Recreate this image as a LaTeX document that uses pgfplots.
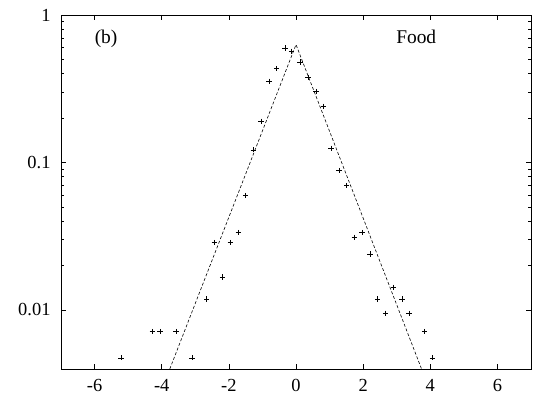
\documentclass[border=0pt]{standalone}
\usepackage{fontspec}
\setmainfont{Liberation Serif}
\usepackage{pgfplots}
\pgfplotsset{compat=1.18}
\begin{document}
\begin{tikzpicture}[x=1bp,y=1bp]
\useasboundingbox (0,0) rectangle (533,405);
\begin{axis}[at={(61bp,36bp)}, anchor=south west, scale only axis,
  width=470bp, height=354bp,
  xmin=-7, xmax=7, ymode=log, ymin=0.00398, ymax=1,
  xtick={-6,-4,...,6}, ytick={0.01,0.1,1}, yticklabels={0.01,0.1,1},
  tick align=inside, major tick length=5bp, minor tick length=3bp,
  tick style={black, line width=0.6pt},
  axis line style={line width=0.8pt},
  font=\fontsize{18.5}{22}\selectfont,
  /pgf/number format/assume math mode=true,
  x tick label style={yshift=-7bp},
  y tick label style={xshift=-7bp},
  clip=true]
\addplot[black, line width=0.6pt, dash pattern=on 3pt off 2pt] coordinates {
(-3.76,0.00398) (0,0.63) (3.74,0.00398)};
\addplot[only marks, mark=+, mark size=2.7pt, black, line width=0.5pt] coordinates {
(-5.21,0.00474) (-4.28,0.00713) (-4.05,0.00713) (-3.58,0.00713) (-3.10,0.00474)
(-2.66,0.01188) (-2.43,0.0286) (-2.19,0.0167) (-1.96,0.0286) (-1.72,0.0335)
(-1.50,0.0597) (-1.27,0.122) (-1.04,0.190) (-0.80,0.355) (-0.58,0.433)
(-0.33,0.598) (-0.13,0.567) (0.12,0.481) (0.36,0.378) (0.60,0.303)
(0.81,0.240) (1.04,0.125) (1.28,0.0882) (1.51,0.0698) (1.74,0.0311)
(1.97,0.0335) (2.20,0.024) (2.43,0.01188) (2.67,0.0095) (2.90,0.01426)
(3.16,0.01188) (3.37,0.0095) (3.83,0.00713) (4.07,0.00474)};
\node[anchor=base west, inner sep=0, font=\fontsize{19.5}{22}\selectfont] at (axis cs:-6,0.64) {(b)};
\node[anchor=base west, inner sep=0, font=\fontsize{19.5}{22}\selectfont] at (axis cs:2.98,0.645) {Food};
\end{axis}
\end{tikzpicture}
\end{document}
